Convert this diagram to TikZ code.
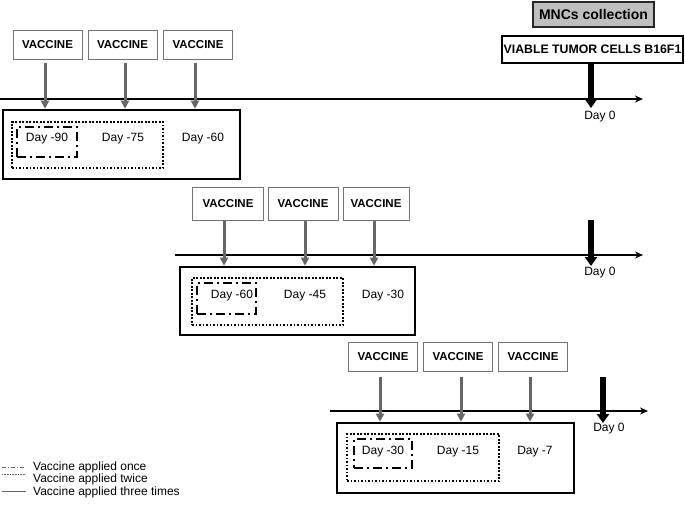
\documentclass[tikz,border=0pt]{standalone}
\usepackage{fontspec}
\setmainfont{Liberation Sans}
\usetikzlibrary{arrows.meta}
\begin{document}
\begin{tikzpicture}[x=1pt,y=-1pt,
 vbox/.style={draw=black!55,line width=0.9pt,minimum width=69pt,minimum height=29pt,inner sep=0pt,font=\fontsize{11.5}{13}\selectfont\bfseries},
 bigbox/.style={draw=black,line width=2.6pt,inner sep=0pt},
 dotbox/.style={draw=black,line width=2pt,dash pattern=on 1.6pt off 1.9pt,inner sep=0pt},
 ddbox/.style={draw=black,line width=2.4pt,dash pattern=on 9pt off 4pt on 2pt off 4pt,inner sep=0pt},
 daytxt/.style={font=\fontsize{12}{14}\selectfont,inner sep=0pt},
 garrow/.style={draw=black!60,line width=3pt,-{Triangle[width=8pt,length=8pt]}},
 barrow/.style={draw=black,line width=6pt,-{Triangle[width=12pt,length=9pt]}},
 axisline/.style={draw=black,line width=1.3pt,-{Stealth[width=7pt,length=8pt]}},
 legline/.style={draw=black!60,line width=0.7pt},
 legtxt/.style={font=\fontsize{12}{14}\selectfont,anchor=west,inner sep=0pt},
]
\useasboundingbox (0,0) rectangle (685,505);

% ---------- top right ----------
\node[draw=black!85,fill=black!25,line width=2.4pt,minimum width=121pt,minimum height=25pt,inner sep=0pt,font=\fontsize{14}{16}\selectfont\bfseries] (mnc) at (593.5,14.5) {MNCs collection};
\node[draw=black,fill=white,line width=2.4pt,minimum width=181pt,minimum height=27pt,inner sep=0pt,font=\fontsize{12.3}{14}\selectfont\bfseries] (viable) at (592.5,49.5) {VIABLE TUMOR CELLS B16F1};

% ---------- panel 1 ----------
\coordinate (a1s) at (0,99);
\coordinate (a1e) at (643,99);
\draw[axisline] (a1s) -- (a1e);
\node[vbox] (v11) at (47.5,44.5) {VACCINE};
\node[vbox] (v12) at (122.5,44.5) {VACCINE};
\node[vbox] (v13) at (198,44.5) {VACCINE};
\node[bigbox,minimum width=237pt,minimum height=69pt] (B1) at (121.5,144.5) {};
\node[dotbox,minimum width=151pt,minimum height=46pt] (D1) at (87.5,145) {};
\node[ddbox,minimum width=60pt,minimum height=30pt] (E1) at (47,142) {};
\node[daytxt] (t11) at (47,139) {Day -90};
\node[daytxt] (t12) at (123,139) {Day -75};
\node[daytxt] (t13) at (203,139) {Day -60};
\draw[garrow] ([xshift=-2.5pt,yshift=-4pt]v11.south) -- ([xshift=-2.5pt]v11.south |- B1.north);
\draw[garrow] ([xshift=2.5pt,yshift=-4pt]v12.south) -- ([xshift=2.5pt]v12.south |- B1.north);
\draw[garrow] ([xshift=-3pt,yshift=-4pt]v13.south) -- ([xshift=-3pt]v13.south |- B1.north);
\coordinate (d1) at (591,108);
\draw[barrow] (viable.south -| d1) -- (d1);
\node[daytxt] (z1) at (600,117) {Day 0};

% ---------- panel 2 ----------
\coordinate (a2s) at (175,255);
\coordinate (a2e) at (643,255);
\draw[axisline] (a2s) -- (a2e);
\node[vbox,minimum width=71pt,minimum height=33pt] (v21) at (228,203.5) {VACCINE};
\node[vbox,minimum width=70pt,minimum height=33pt] (v22) at (303,203.5) {VACCINE};
\node[vbox,minimum width=66pt,minimum height=33pt] (v23) at (376,203.5) {VACCINE};
\node[bigbox,minimum width=235pt,minimum height=68pt] (B2) at (297.5,301) {};
\node[dotbox,minimum width=151pt,minimum height=47pt] (D2) at (267.5,301.5) {};
\node[ddbox,minimum width=59pt,minimum height=31pt] (E2) at (226.5,298.5) {};
\node[daytxt] (t21) at (232,296) {Day -60};
\node[daytxt] (t22) at (305,296) {Day -45};
\node[daytxt] (t23) at (383,296) {Day -30};
\draw[garrow] ([xshift=-4pt,yshift=-1pt]v21.south) -- ([xshift=-4pt]v21.south |- B2.north);
\draw[garrow] ([xshift=2pt,yshift=-1pt]v22.south) -- ([xshift=2pt]v22.south |- B2.north);
\draw[garrow] ([xshift=-2pt,yshift=-1pt]v23.south) -- ([xshift=-2pt]v23.south |- B2.north);
\coordinate (c2s) at (591,220);
\coordinate (c2e) at (591,266);
\draw[barrow] (c2s) -- (c2e);
\node[daytxt] (z2) at (600,273) {Day 0};

% ---------- panel 3 ----------
\coordinate (a3s) at (330,411);
\coordinate (a3e) at (648,411);
\draw[axisline] (a3s) -- (a3e);
\node[vbox] (v31) at (383,356.5) {VACCINE};
\node[vbox] (v32) at (458,356.5) {VACCINE};
\node[vbox] (v33) at (533,356.5) {VACCINE};
\node[bigbox,minimum width=237pt,minimum height=70pt] (B3) at (455.5,458) {};
\node[dotbox,minimum width=152pt,minimum height=47pt] (D3) at (423,457.5) {};
\node[ddbox,minimum width=58pt,minimum height=29pt] (E3) at (383,453.5) {};
\node[daytxt] (t31) at (383,452) {Day -30};
\node[daytxt] (t32) at (458,452) {Day -15};
\node[daytxt] (t33) at (535,452) {Day -7};
\draw[garrow] ([xshift=-3pt,yshift=-6pt]v31.south) -- ([xshift=-3pt]v31.south |- B3.north);
\draw[garrow] ([xshift=3pt,yshift=-6pt]v32.south) -- ([xshift=3pt]v32.south |- B3.north);
\draw[garrow] ([xshift=-3pt,yshift=-6pt]v33.south) -- ([xshift=-3pt]v33.south |- B3.north);
\coordinate (c3s) at (603,377);
\coordinate (c3e) at (603,423);
\draw[barrow] (c3s) -- (c3e);
\node[daytxt] (z3) at (609,429) {Day 0};

% ---------- legend ----------
\coordinate (l1s) at (2,467); \coordinate (l1e) at (26,467);
\coordinate (l2s) at (2,474); \coordinate (l2e) at (26,474);
\coordinate (l3s) at (2,491); \coordinate (l3e) at (26,491);
\draw[legline,dash pattern=on 4pt off 2pt on 1pt off 2pt] (l1s) -- (l1e);
\draw[legline,line width=0.5pt,dash pattern=on 1pt off 0.6pt] (l2s) -- (l2e);
\draw[legline] (l3s) -- (l3e);
\node[legtxt] (g1) at (33,467) {Vaccine applied once};
\node[legtxt] (g2) at (33,479) {Vaccine applied twice};
\node[legtxt] (g3) at (33,492) {Vaccine applied three times};
\end{tikzpicture}
\end{document}
